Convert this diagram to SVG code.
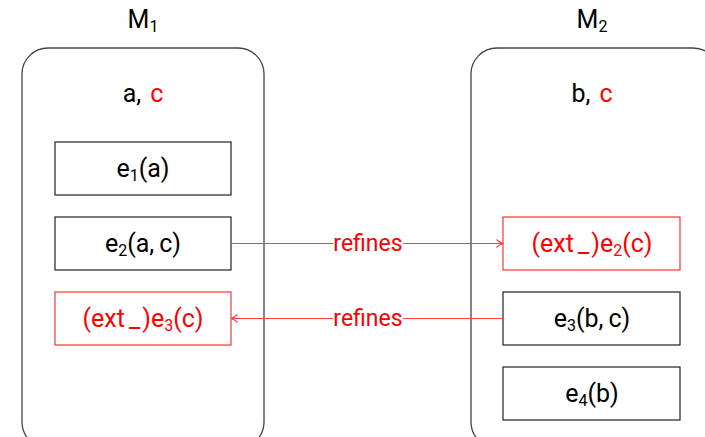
<svg xmlns="http://www.w3.org/2000/svg" width="705" height="437" viewBox="0 0 705 437">
  <style>
    text { font-family: "Roboto", "DejaVu Sans", sans-serif; font-size: 25px; fill: #000; text-anchor: middle; }
    .red { fill: #ff0000; }
    .sub { font-size: 16px; }
    .lbl { font-size: 23px; }
    .module { fill: none; stroke: #444; stroke-width: 1.3; }
    .evt { fill: #fff; stroke: #222; stroke-width: 1.2; }
    .evt-red { fill: #fff; stroke: #ff3333; stroke-width: 1.2; }
    .link { fill: none; stroke: #ff4040; stroke-width: 1.2; }
    .lbl-bg { fill: #fff; }
  </style>
  <defs>
    <marker id="arrow" viewBox="0 0 8 10" refX="7.5" refY="5" markerWidth="8" markerHeight="10" markerUnits="userSpaceOnUse" orient="auto">
      <path d="M1,1 Q4,4 7.5,5 Q4,6 1,9" fill="none" stroke="#ff4040" stroke-width="1.1"/>
    </marker>
  </defs>

  <rect width="705" height="437" fill="#fff"/>

  <!-- Module M1 -->
  <g id="M1">
    <text x="143" y="28">M<tspan class="sub" dy="4">1</tspan></text>
    <rect class="module" x="22" y="48" width="242" height="400" rx="26" ry="26"/>
    <text x="143" y="102">a,<tspan class="red" dx="9">c</tspan></text>
  </g>
  <g id="M1-e1">
    <rect class="evt" x="55" y="142" width="176" height="53"/>
    <text x="143" y="177">e<tspan class="sub" dy="4">1</tspan><tspan dy="-4">(a)</tspan></text>
  </g>
  <g id="M1-e2">
    <rect class="evt" x="55" y="217" width="176" height="53"/>
    <text x="143" y="252">e<tspan class="sub" dy="4">2</tspan><tspan dy="-4">(a,</tspan><tspan dx="5">c)</tspan></text>
  </g>
  <g id="M1-e3">
    <rect class="evt-red" x="55" y="292" width="176" height="53"/>
    <text class="red" x="143" y="327">(ext<tspan dx="4">_</tspan><tspan dx="2">)e</tspan><tspan class="sub" dy="4">3</tspan><tspan dy="-4">(c)</tspan></text>
  </g>

  <!-- Module M2 -->
  <g id="M2">
    <text x="592" y="28">M<tspan class="sub" dy="4">2</tspan></text>
    <rect class="module" x="471" y="48" width="248" height="400" rx="26" ry="26"/>
    <text x="592" y="102">b,<tspan class="red" dx="9">c</tspan></text>
  </g>
  <g id="M2-e2">
    <rect class="evt-red" x="503" y="217" width="177" height="53"/>
    <text class="red" x="592" y="252">(ext<tspan dx="4">_</tspan><tspan dx="2">)e</tspan><tspan class="sub" dy="4">2</tspan><tspan dy="-4">(c)</tspan></text>
  </g>
  <g id="M2-e3">
    <rect class="evt" x="503" y="292" width="177" height="53"/>
    <text x="592" y="327">e<tspan class="sub" dy="4">3</tspan><tspan dy="-4">(b,</tspan><tspan dx="5">c)</tspan></text>
  </g>
  <g id="M2-e4">
    <rect class="evt" x="503" y="367" width="177" height="53"/>
    <text x="592" y="402">e<tspan class="sub" dy="4">4</tspan><tspan dy="-4">(b)</tspan></text>
  </g>

  <!-- Refinement links -->
  <g id="connectors">
    <line class="link" x1="231" y1="243.5" x2="503" y2="243.5" marker-end="url(#arrow)"/>
    <rect class="lbl-bg" x="333" y="231" width="70" height="26"/>
    <text class="red lbl" x="368" y="251">refines</text>

    <line class="link" x1="503" y1="318.5" x2="231" y2="318.5" marker-end="url(#arrow)"/>
    <rect class="lbl-bg" x="333" y="306" width="70" height="26"/>
    <text class="red lbl" x="368" y="326">refines</text>
  </g>
</svg>
